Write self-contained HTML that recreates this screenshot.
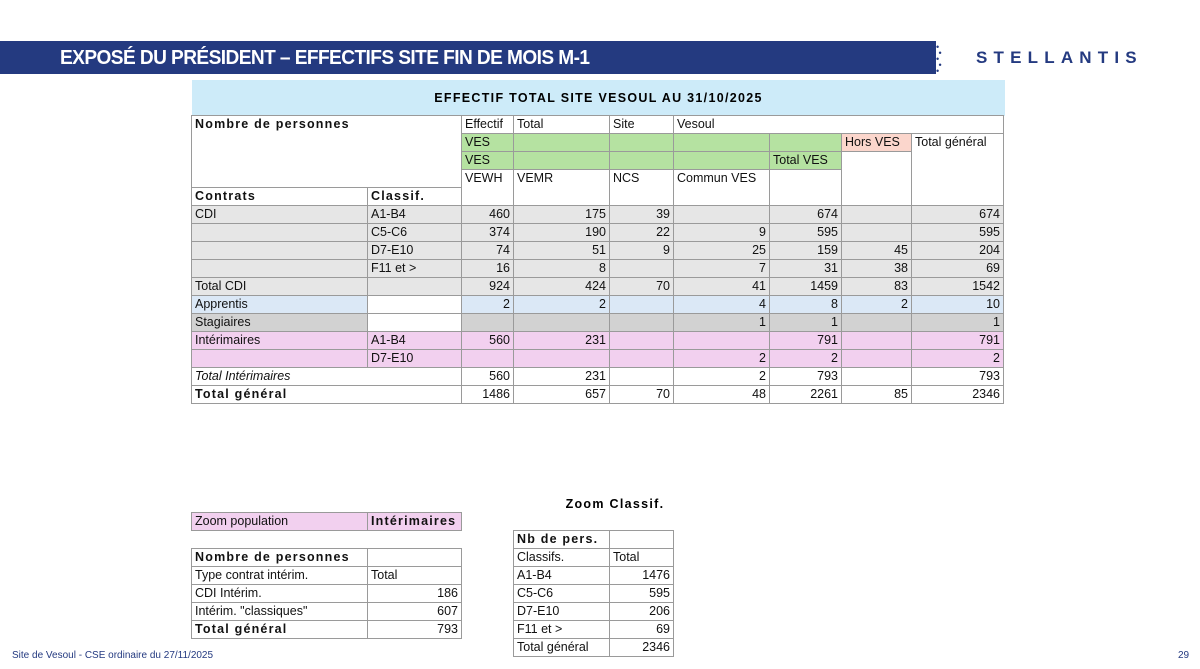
<!DOCTYPE html>
<html><head><meta charset="utf-8">
<style>
body{margin:0;width:1200px;height:669px;background:#fff;position:relative;overflow:hidden;font-family:"Liberation Sans",Arial,sans-serif;}
.c{position:absolute;box-sizing:border-box;border:1px solid #9a9a9a;font-size:12.5px;line-height:16px;padding:0 3px;color:#111;white-space:nowrap;overflow:hidden;margin-left:-1px;margin-top:-1px}
.r{text-align:right}
.b{font-weight:bold;letter-spacing:1.2px}
.g{background:#e6e6e6}.bl{background:#dbe8f6}.s{background:#d2d2d2}.p{background:#f2d0ef}.gr{background:#b5e2a1}.o{background:#fbd6cc}
</style></head><body>
<div style="position:absolute;left:0;top:41px;width:936px;height:33px;background:#243a80"></div>
<div style="position:absolute;left:60px;top:45px;color:#fff;font-family:'Liberation Sans Narrow','Liberation Sans',sans-serif;font-weight:bold;font-size:20px;line-height:26px;letter-spacing:-0.6px;transform:scaleX(0.955);transform-origin:left">EXPOSÉ DU PRÉSIDENT – EFFECTIFS SITE FIN DE MOIS M-1</div>
<div style="position:absolute;left:936px;top:44px;color:#243a80;font-size:9px;line-height:6px">•<br>&nbsp;•<br>•<br>&nbsp;•<br>•</div>
<div style="position:absolute;left:976px;top:48px;color:#243a80;font-size:17px;font-weight:bold;letter-spacing:6.2px">STELLANTIS</div>
<div style="position:absolute;left:192px;top:80px;width:813px;height:36px;background:#cdebf9;text-align:center;font-size:12.5px;font-weight:bold;letter-spacing:1.3px;line-height:36px">EFFECTIF TOTAL SITE VESOUL AU 31/10/2025</div>
<div style="position:absolute;left:540px;top:497px;width:150px;text-align:center;font-size:12.5px;font-weight:bold;letter-spacing:1.3px">Zoom Classif.</div>
<div style="position:absolute;left:12px;top:650px;font-size:10px;color:#243a80;font-family:'Liberation Sans Narrow','Liberation Sans',sans-serif">Site de Vesoul - CSE ordinaire du 27/11/2025</div>
<div style="position:absolute;left:1178px;top:650px;font-size:10px;color:#243a80">29</div>
<script>
const X=[192,368,462,514,610,674,770,842,912,1004];
const Y=[];for(let i=0;i<=16;i++)Y.push(116+18*i);
function cell(x0,x1,y0,y1,t,cls){
 const el=document.createElement('div');
 el.className='c '+(cls||'');
 el.style.left=x0+'px';el.style.top=y0+'px';el.style.width=(x1-x0+1)+'px';el.style.height=(y1-y0+1)+'px';
 el.textContent=t;
 
 
 document.body.appendChild(el);
}
function m(c0,c1,r0,r1,t,cls){cell(X[c0],X[c1],Y[r0],Y[r1],t,cls);}
m(0,2,0,4,'Nombre de personnes','b');
m(2,3,0,1,'Effectif');m(3,4,0,1,'Total');m(4,5,0,1,'Site');m(5,9,0,1,'Vesoul');
m(2,3,1,2,'VES','gr');for(let c=3;c<7;c++)m(c,c+1,1,2,'','gr');
m(7,8,1,5,'Hors VES','');cell(X[7],X[8],Y[1],Y[2],'Hors VES','o');
m(8,9,1,5,'Total général');
m(2,3,2,3,'VES','gr');for(let c=3;c<6;c++)m(c,c+1,2,3,'','gr');m(6,7,2,3,'Total VES','gr');
m(2,3,3,5,'VEWH');m(3,4,3,5,'VEMR');m(4,5,3,5,'NCS');m(5,6,3,5,'Commun VES');m(6,7,3,5,'');
m(0,1,4,5,'Contrats','b');m(1,2,4,5,'Classif.','b');
const rowsLabel=['CDI','','','','Total CDI','Apprentis','Stagiaires','Intérimaires','','Total Intérimaires','Total général'];
const rowsClassif=['A1-B4','C5-C6','D7-E10','F11 et >','','','','A1-B4','D7-E10','',''];
const vewh=[460,374,74,16,924,2,'',560,'',560,1486];
const vemr=[175,190,51,8,424,2,'',231,'',231,657];
const ncs=[39,22,9,'',70,'','','','','',70];
const commun=['',9,25,7,41,4,1,'',2,2,48];
const totalVes=[674,595,159,31,1459,8,1,791,2,793,2261];
const horsVes=['','',45,38,83,2,'','','','',85];
const totalGen=[674,595,204,69,1542,10,1,791,2,793,2346];
const bg=['g','g','g','g','g','bl','s','p','p','',''];
const cols=[vewh,vemr,ncs,commun,totalVes,horsVes,totalGen];
for(let i=0;i<11;i++){
 const r=5+i,cls=bg[i];
 if(i>=9){m(0,2,r,r+1,rowsLabel[i],cls+(i==10?' b':''));
  if(i==9)document.body.lastChild.style.fontStyle='italic';}
 else{m(0,1,r,r+1,rowsLabel[i],cls);m(1,2,r,r+1,rowsClassif[i],(i==5||i==6)?'':cls);}
 for(let k=0;k<7;k++)m(2+k,3+k,r,r+1,String(cols[k][i]),'r '+cls);
}
cell(192,368,513,531,'Zoom population','p');cell(368,462,513,531,'Intérimaires','p b');
const intType=['CDI Intérim.','Intérim. "classiques"'];
const intVals=[186,607];
cell(192,368,549,567,'Nombre de personnes','b');cell(368,462,549,567,'');
cell(192,368,567,585,'Type contrat intérim.');cell(368,462,567,585,'Total');
for(let i=0;i<intType.length;i++){cell(192,368,585+18*i,603+18*i,intType[i]);cell(368,462,585+18*i,603+18*i,String(intVals[i]),'r');}
cell(192,368,621,639,'Total général','b');cell(368,462,621,639,'793','r');
const clsNames=['A1-B4','C5-C6','D7-E10','F11 et >'];
const clsVals=[1476,595,206,69];
cell(514,610,531,549,'Nb de pers.','b');cell(610,674,531,549,'');
cell(514,610,549,567,'Classifs.');cell(610,674,549,567,'Total');
for(let i=0;i<clsNames.length;i++){cell(514,610,567+18*i,585+18*i,clsNames[i]);cell(610,674,567+18*i,585+18*i,String(clsVals[i]),'r');}
cell(514,610,639,657,'Total général');cell(610,674,639,657,'2346','r');
</script>
</body></html>
